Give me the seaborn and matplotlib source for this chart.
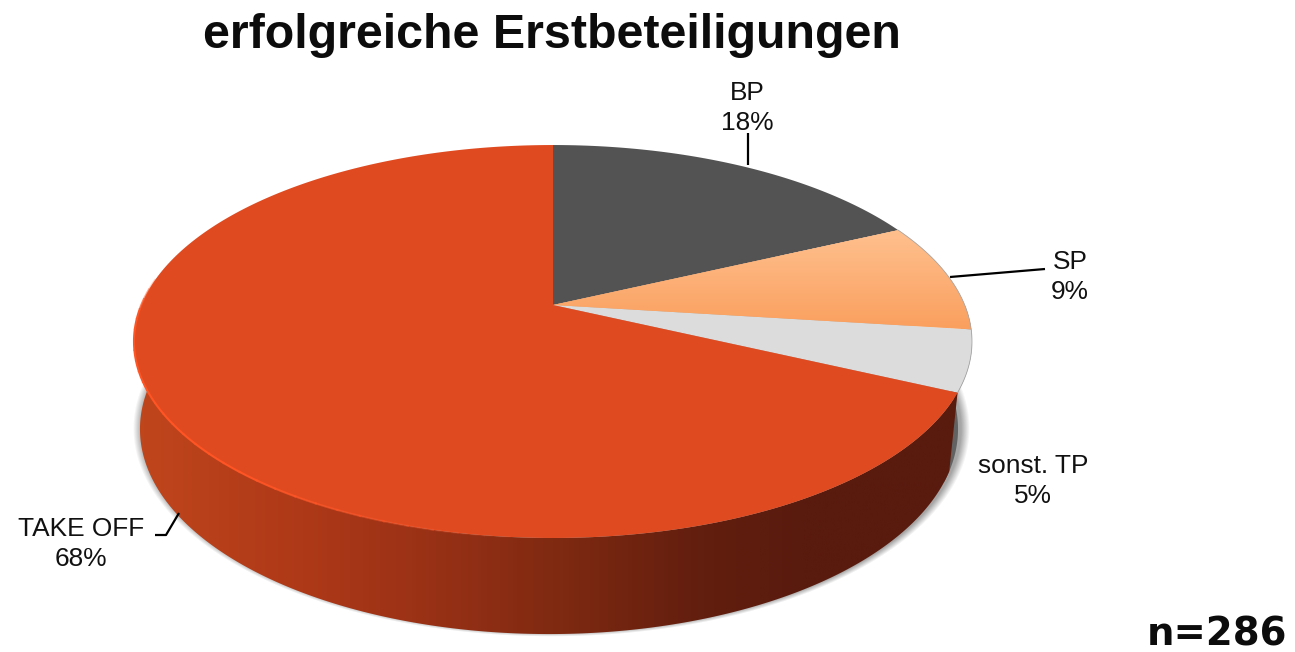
import numpy as np
import matplotlib
matplotlib.use("Agg")
import matplotlib.pyplot as plt
from matplotlib.transforms import Transform
from matplotlib.patches import Polygon
from matplotlib.path import Path
from matplotlib.colors import LinearSegmentedColormap
import seaborn as sns

title = "erfolgreiche Erstbeteiligungen"
footnote = "n=286"
categories = ["BP", "SP", "sonst. TP", "TAKE OFF"]
shares = [18, 9, 5, 68]
slice_colors = ["#535353", "#FBA666", "#DCDCDC", "#E04A20"]

sns.set_theme(style="white")
plt.rcParams["font.family"] = ["Liberation Sans", "DejaVu Sans"]

W, H = 1295, 652
fig = plt.figure(figsize=(W / 100, H / 100), dpi=100, facecolor="white")
ax = fig.add_axes([0, 0, 1, 1])


class Perspective(Transform):
    """Tilted-disc projection: unit circle -> picture pixels."""
    input_dims = output_dims = 2
    is_separable = False
    has_inverse = False

    def __init__(self, cx, cy, a, b, k):
        super().__init__()
        self.p = (cx, cy, a, b, k)

    def transform_non_affine(self, values):
        cx, cy, a, b, k = self.p
        u, v = np.asarray(values).T
        w = 1 + k * v
        return np.column_stack([cx + a * u / w, cy - b * v / w])

    def transform_path_non_affine(self, path):
        # flatten the arcs first so the projection stays exact along the rim
        poly = Path(path.vertices * 2000, path.codes).to_polygons(closed_only=False)[0] / 2000
        return Path(self.transform_non_affine(poly))


top = Perspective(553, 305, 411.7, 189.7, 0.1858)
low = Perspective(549, 391, 401.9, 197.9, 0.1858)

wedges, _ = ax.pie(shares, colors=sns.color_palette(slice_colors),
                   startangle=90, counterclock=False,
                   wedgeprops=dict(linewidth=0))
for w in wedges:
    w.set_transform(top + ax.transData)
    w.set_zorder(5)
ax.set_aspect("auto")
ax.axis("off")


def circle(t):
    return np.column_stack([np.cos(t), np.sin(t)])


def side_band(t0, t1, low_shift=0.0):
    t = np.radians(np.linspace(t0, t1, 300))
    tb = np.radians(np.linspace(t0 + low_shift, t1, 300))
    return np.vstack([top.transform(circle(t)), low.transform(circle(tb))[::-1]])


# angle (math convention) where each slice ends
ends = 90 - np.cumsum(shares) * 3.6

# soft shadow under the disc
yy, xx = np.mgrid[0:H, 0:W]
d = (np.hypot((xx - 551) / 414, (yy - 428) / 206) - 1) * 330
alpha = np.clip(0.5 - d / 7, 0, 1) * 0.5
rgba = np.zeros((H, W, 4))
rgba[..., :3] = 0.3
rgba[..., 3] = alpha
ax.imshow(rgba, extent=(0, W, H, 0), zorder=1, aspect="auto", interpolation="bilinear")

# side wall of TAKE OFF with horizontal gradient
side_cmap = LinearSegmentedColormap.from_list(
    "side",
    [(0.0, "#C0461C"), (0.2, "#AE3918"), (0.33, "#9C3216"), (0.5, "#802A12"),
     (0.68, "#621E0E"), (0.8, "#591B0E"), (1.0, "#591B0E")])
im = ax.imshow(np.linspace(0, 1, 512)[None, :], cmap=side_cmap, vmin=0, vmax=1,
               extent=(134, 972, 640, 330), zorder=3, aspect="auto")
patch = Polygon(side_band(ends[2], -180, low_shift=3.0), closed=True,
                facecolor="none", edgecolor="none", transform=ax.transData)
ax.add_patch(patch)
im.set_clip_path(patch)

# side wall of the light slice
ax.add_patch(Polygon(side_band(0, ends[2]), closed=True, facecolor="#626262",
                     edgecolor="none", zorder=2.5))

# SP slice vertical gradient
sp_cmap = LinearSegmentedColormap.from_list("sp", ["#FFC08E", "#FA9F5E"])
im2 = ax.imshow(np.linspace(0, 1, 128)[:, None], cmap=sp_cmap, vmin=0, vmax=1,
                extent=(540, 980, 330, 230), zorder=6, aspect="auto")
im2.set_clip_path(wedges[1])

ax.set_xlim(0, W)
ax.set_ylim(H, 0)

# bright rim on the front-left edge, fading out toward the front
edges = np.linspace(172, 265, 32)
for i in range(len(edges) - 1):
    t = np.radians(np.linspace(edges[i], edges[i + 1] + 0.3, 12))
    rim = top.transform(circle(t))
    fade = min(1.0, (len(edges) - 1 - i) / 12) * min(1.0, (i + 1) / 4)
    ax.plot(rim[:, 0], rim[:, 1], color="#FF5424", lw=1.5, alpha=fade, zorder=7,
            solid_capstyle="butt")
t = np.radians(np.linspace(ends[2], ends[0], 100))
rim = top.transform(circle(t))
ax.plot(rim[:, 0], rim[:, 1], color="#A8A8A8", lw=0.6, zorder=7)

# leader lines
lc = dict(color="black", lw=1.6, zorder=8, solid_capstyle="butt")
ax.plot([748, 748], [165, 133], **lc)
ax.plot([950, 1045], [277, 269], **lc)
ax.plot([155, 166, 179], [535, 535, 513], **lc)

# data labels
pos = [(747, 108), (1070, 277), (1033, 481), (81, 544)]
for name, val, (x, y) in zip(categories, shares, pos):
    ax.text(x, y, f"{name}\n{val}%", ha="center", va="center", fontsize=18.9,
            linespacing=1.3, color="#111111", zorder=9)

ax.text(551.5, 36, title, ha="center", va="center", fontsize=34.85,
        fontweight="bold", color="#0c0c0c", zorder=9)
ax.text(1287, 635, footnote, ha="right", va="center", fontsize=27.8,
        fontweight="bold", family="DejaVu Sans", color="#0c0c0c", zorder=9)

fig.savefig("out.png", dpi=100, facecolor="white")
